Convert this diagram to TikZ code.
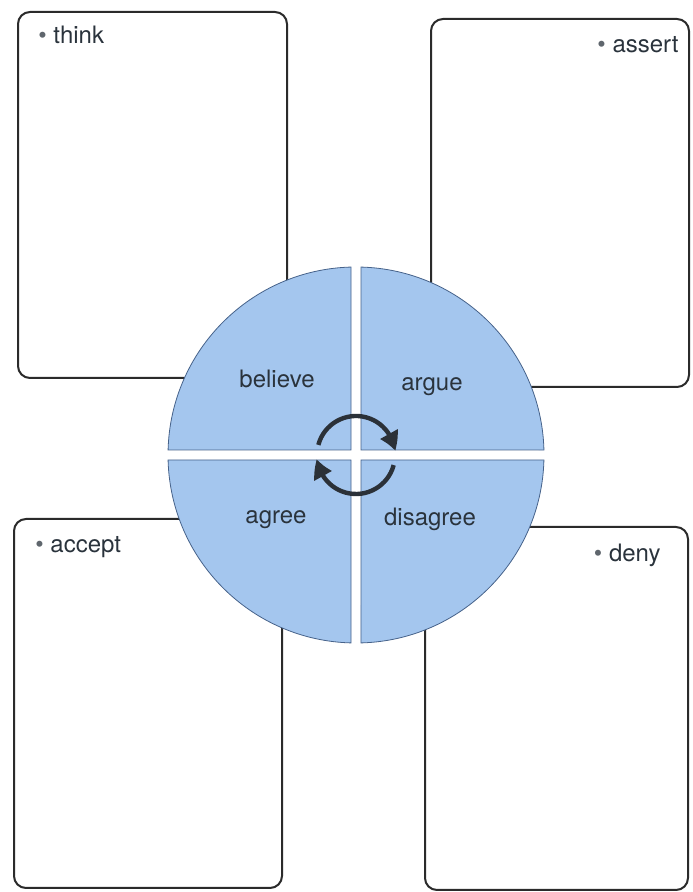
\documentclass[tikz,border=0pt]{standalone}
\usepackage{fontspec}
\setmainfont{TeX Gyre Heros}
\usetikzlibrary{arrows.meta,bending}
\definecolor{CardLine}{HTML}{2B2B2B}
\definecolor{WheelFill}{HTML}{A4C6EE}
\definecolor{WheelLine}{HTML}{46628A}
\definecolor{ArrowInk}{HTML}{2B3138}
\definecolor{LabelInk}{HTML}{2A333C}

\begin{document}
\begin{tikzpicture}[x=0.5pt, y=0.5pt,
    card/.style={draw=CardLine, line width=1pt, rounded corners=6pt},
    tag/.style={font=\fontsize{12}{14}\selectfont, text=LabelInk, inner sep=0pt},
    quad/.style={fill=WheelFill, draw=WheelLine, line width=0.4pt},
    word/.style={font=\fontsize{12}{14}\selectfont, text=LabelInk, inner sep=0pt, anchor=base},
    turn/.style={-{Triangle[length=9pt,width=9.5pt,bend]}, draw=ArrowInk, line width=2.2pt}
  ]
    \useasboundingbox (0,0) rectangle (692,892);

    % cards behind the wheel
    \draw[card] (18,880) rectangle (287,514);
    \draw[card] (431,873) rectangle (689,505);
    \draw[card] (14,373) rectangle (282,4);
    \draw[card] (425,365) rectangle (688,2);

    \node[tag, anchor=base west] (think) at (38,848) {{\color{LabelInk!75}•} think};
    \node[tag, anchor=base east] (assert) at (679,839) {{\color{LabelInk!75}•} assert};
    \node[tag, anchor=base west] (accept) at (35,339) {{\color{LabelInk!75}•} accept};
    \node[tag, anchor=base east] (deny) at (661,330) {{\color{LabelInk!75}•} deny};

    % wheel
    \coordinate (hub) at (356,437);
    \foreach \a in {0,90,180,270}
      \filldraw[quad, shift={(hub)}, rotate=\a] (5,5) -- (5,187.93)
        arc[start angle=88.48, end angle=1.52, radius=188] -- cycle;

    \node[word] (believe) at (277,504) {believe};
    \node[word] (argue) at (432,501) {argue};
    \node[word] (agree) at (276,368) {agree};
    \node[word] (disagree) at (430,366) {disagree};

    % turning arrows
    \draw[turn] (hub) ++(165:39) arc[start angle=165, end angle=6, radius=39];
    \draw[turn] (hub) ++(-15:39) arc[start angle=-15, end angle=-174, radius=39];
\end{tikzpicture}
\end{document}
